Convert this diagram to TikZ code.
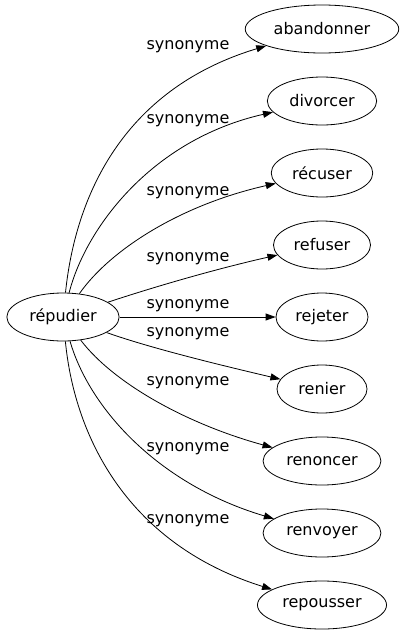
\documentclass[tikz,border=0pt]{standalone}
\usepackage{fontspec}
\setmainfont{DejaVu Sans}
\usetikzlibrary{arrows.meta,shapes.geometric}
\tikzset{
  word/.style={draw,ellipse,inner xsep=6pt,inner ysep=0pt,minimum height=48pt,minimum width=90pt,font=\fontsize{16}{19}\selectfont},
  lbl/.style={inner sep=0pt,font=\fontsize{16}{19}\selectfont},
}
\begin{document}
\begin{tikzpicture}[x=1pt,y=-1pt,>={Triangle[length=10pt,width=7pt]},line width=0.8pt]
  \useasboundingbox (0,0) rectangle (402,635);
  \node[word] (rep) at (63,317) {répudier};
  % synonymes a droite
  \foreach \n/\w/\y in {aba/abandonner/29,div/divorcer/101,rec/récuser/173,ref/refuser/245,rej/rejeter/317,ren/renier/389,rnc/renoncer/461,rnv/renvoyer/533,rep2/repousser/605}
    \node[word] (\n) at (322,\y) {\w};
  \foreach \y in {47,121,193,259,306,334,383,449,521}
    \node[lbl] (s\y) at (188,\y) {synonyme};
  % aretes
  \foreach \t/\a/\b in {aba/{75,200}/{120,90},div/{85,230}/{150,140},rec/{110,250}/{180,205},ref/{160,285}/{220,268},ren/{150,348}/{220,365},rnc/{115,385}/{190,425},rnv/{90,410}/{160,485},rep2/{75,440}/{130,545}}
    \draw[->] (rep) .. controls (\a) and (\b) .. (\t);
  \draw[->] (rep) -- (rej);
\end{tikzpicture}
\end{document}
